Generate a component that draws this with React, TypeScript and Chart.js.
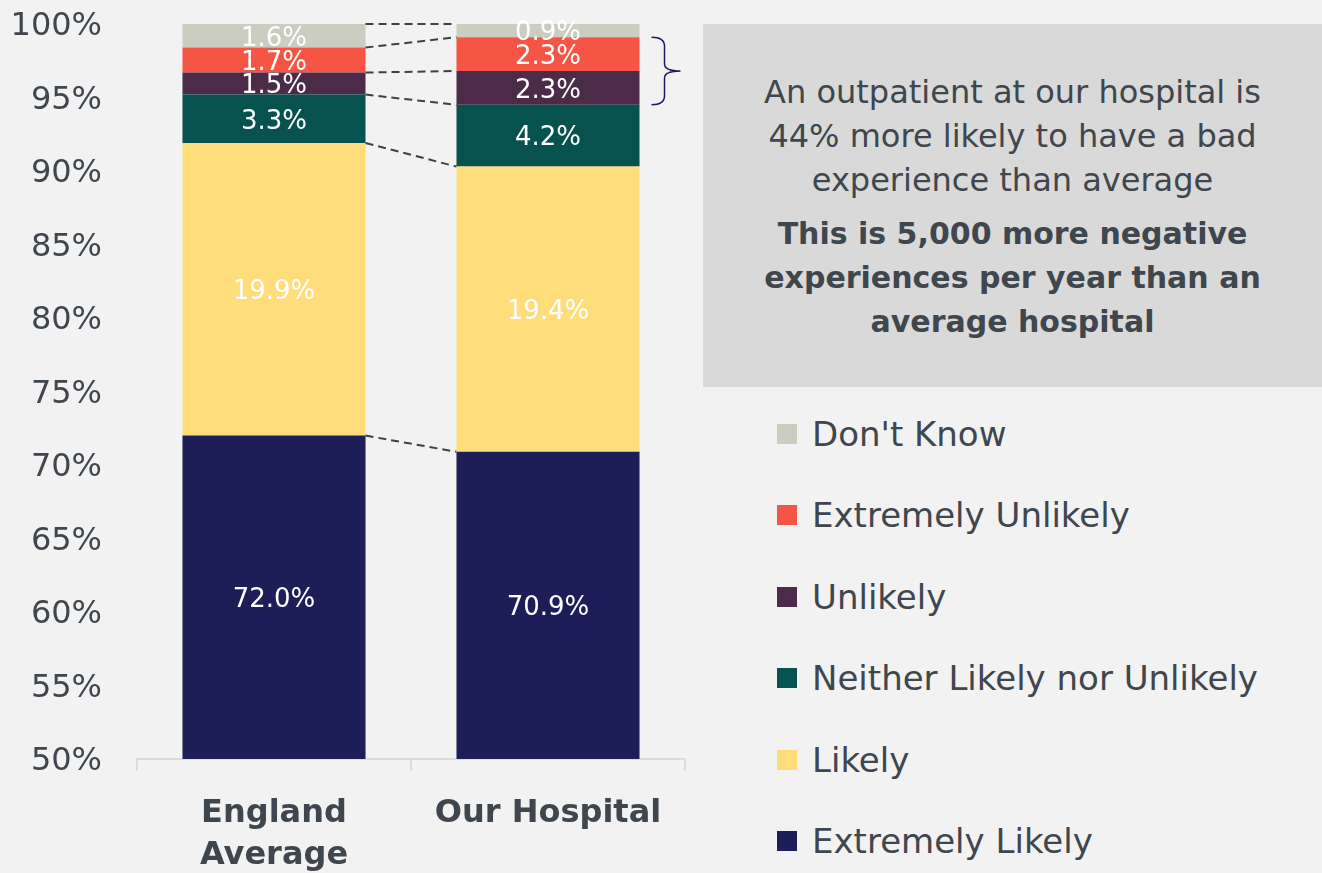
import React, { useEffect, useRef } from "react";
import { Chart, registerables } from "chart.js";

Chart.register(...registerables);

const categories: string[][] = [["England", "Average"], ["Our Hospital"]];
const seriesNames = ["Extremely Likely", "Likely", "Neither Likely nor Unlikely", "Unlikely", "Extremely Unlikely", "Don't Know"];
const extremelyLikely = [72.0, 70.9];
const likely = [19.9, 19.4];
const neither = [3.3, 4.2];
const unlikely = [1.5, 2.3];
const extremelyUnlikely = [1.7, 2.3];
const dontKnow = [1.6, 0.9];
const seriesColors = ["#1d1d57", "#fedd7a", "#07514f", "#4b2b47", "#f65545", "#cbcdc0"];
const yTicks = [50, 55, 60, 65, 70, 75, 80, 85, 90, 95, 100];

const FONT = "'DejaVu Sans', sans-serif";
const TEXT = "#40464d";

const overlayPlugin = {
  id: "overlay",
  afterDatasetsDraw(chart: any) {
    const { ctx, chartArea } = chart;
    ctx.save();
    // dashed connectors
    ctx.strokeStyle = "#404040";
    ctx.lineWidth = 2;
    ctx.setLineDash([8, 5]);
    chart.data.datasets.forEach((_: any, di: number) => {
      const meta = chart.getDatasetMeta(di);
      const a = meta.data[0].getProps(["x", "y", "width"], true);
      const b = meta.data[1].getProps(["x", "y", "width"], true);
      ctx.beginPath();
      ctx.moveTo(a.x + a.width / 2, a.y);
      ctx.lineTo(b.x - b.width / 2, b.y);
      ctx.stroke();
    });
    ctx.setLineDash([]);
    // brace over Unlikely + Extremely Unlikely for hospital
    const topBar = chart.getDatasetMeta(4).data[1].getProps(["x", "y", "width"], true);
    const botBar = chart.getDatasetMeta(3).data[1].getProps(["x", "y", "base", "width"], true);
    const x0 = topBar.x + topBar.width / 2 + 12;
    const y0 = topBar.y;
    const y1 = botBar.base;
    const ym = (y0 + y1) / 2;
    const xm = x0 + 13;
    const xt = x0 + 29;
    ctx.strokeStyle = "#1d1d57";
    ctx.lineWidth = 1.5;
    ctx.beginPath();
    ctx.moveTo(x0, y0);
    ctx.quadraticCurveTo(xm, y0, xm, y0 + 9);
    ctx.lineTo(xm, ym - 7);
    ctx.quadraticCurveTo(xm, ym, xt, ym);
    ctx.quadraticCurveTo(xm, ym, xm, ym + 7);
    ctx.lineTo(xm, y1 - 9);
    ctx.quadraticCurveTo(xm, y1, x0, y1);
    ctx.stroke();
    // data labels
    ctx.fillStyle = "#ffffff";
    ctx.font = `26px ${FONT}`;
    ctx.textAlign = "center";
    ctx.textBaseline = "middle";
    chart.data.datasets.forEach((ds: any, di: number) => {
      const meta = chart.getDatasetMeta(di);
      meta.data.forEach((bar: any, i: number) => {
        const p = bar.getProps(["x", "y", "base"], true);
        const t = Math.max(Math.min(p.y, p.base), chartArea.top);
        const bt = Math.min(Math.max(p.y, p.base), chartArea.bottom);
        ctx.fillText(ds.data[i].toFixed(1) + "%", p.x, (t + bt) / 2 + 3);
      });
    });
    ctx.restore();
  },
};

export default function App() {
  const ref = useRef<HTMLCanvasElement | null>(null);
  useEffect(() => {
    document.body.style.margin = "0";
    document.body.style.background = "#f2f2f2";
    const series = [extremelyLikely, likely, neither, unlikely, extremelyUnlikely, dontKnow];
    const chart = new Chart(ref.current!, {
      type: "bar",
      data: {
        labels: categories as any,
        datasets: series.map((d, i) => ({
          label: seriesNames[i],
          data: d,
          backgroundColor: seriesColors[i],
          barPercentage: 0.668,
          categoryPercentage: 1,
          borderWidth: 0,
        })),
      },
      options: {
        responsive: false,
        animation: false,
        layout: { padding: { top: 24, right: 15, left: 0, bottom: 0 } },
        plugins: { legend: { display: false }, tooltip: { enabled: false } },
        scales: {
          x: {
            stacked: true,
            grid: { offset: true, drawOnChartArea: false, drawTicks: true, tickLength: 12, color: "#d9dde0", lineWidth: 2 },
            border: { display: true, color: "#d9dde0", width: 2 },
            ticks: { color: TEXT, font: { family: FONT, size: 32, weight: "bold", lineHeight: 1.3 }, padding: 22, maxRotation: 0 },
            afterFit: (s: any) => { s.height = 114; s.paddingLeft = 0; s.paddingRight = 0; },
          },
          y: {
            stacked: true,
            min: 50,
            max: 100,
            afterBuildTicks: (s: any) => { s.ticks = yTicks.map((v) => ({ value: v })); },
            grid: { display: false, drawTicks: false },
            border: { display: false },
            ticks: { color: TEXT, font: { family: FONT, size: 32 }, padding: 35, labelOffset: 3, callback: (v: any) => v + "%" },
            afterFit: (s: any) => { s.width = 137; s.paddingTop = 0; s.paddingBottom = 0; },
          },
        },
      },
      plugins: [overlayPlugin],
    });
    return () => chart.destroy();
  }, []);

  const legendOrder = [5, 4, 3, 2, 1, 0];
  return (
    <div style={{ position: "absolute", left: 0, top: 0, width: 1322, height: 873, background: "#f2f2f2", overflow: "hidden", fontFamily: FONT }}>
      <canvas ref={ref} width={700} height={873} style={{ position: "absolute", left: 0, top: 0 }} />
      <div style={{ position: "absolute", left: 703, top: 24, width: 619, height: 363, background: "#d9d9d9", color: TEXT, textAlign: "center" }}>
        <div style={{ marginTop: 46, fontSize: 32, lineHeight: "44px" }}>
          An outpatient at our hospital is<br />44% more likely to have a bad<br />experience than average
        </div>
        <div style={{ marginTop: 10, fontSize: 30, lineHeight: "44px", fontWeight: "bold" }}>
          This is 5,000 more negative<br />experiences per year than an<br />average hospital
        </div>
      </div>
      {legendOrder.map((si, row) => (
        <div key={si} style={{ position: "absolute", left: 777, top: 434 + row * 81.4 - 22, height: 44, display: "flex", alignItems: "center", color: TEXT, fontSize: 34, whiteSpace: "nowrap" }}>
          <span style={{ display: "inline-block", width: 20, height: 20, background: seriesColors[si], marginRight: 15 }} />
          <span>{seriesNames[si]}</span>
        </div>
      ))}
    </div>
  );
}
